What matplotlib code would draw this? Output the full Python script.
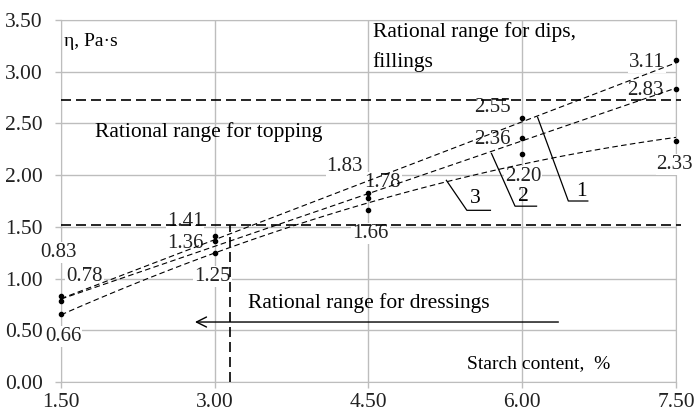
import matplotlib
matplotlib.use("Agg")
import matplotlib.pyplot as plt
import numpy as np

# starch content, % and viscosity, Pa*s for three samples
starch = [1.50, 3.00, 4.50, 6.00, 7.50]
visc_1 = [0.83, 1.41, 1.83, 2.55, 3.11]
visc_2 = [0.78, 1.36, 1.78, 2.36, 2.83]
visc_3 = [0.66, 1.25, 1.66, 2.20, 2.33]

x_ticks = [1.50, 3.00, 4.50, 6.00, 7.50]
y_ticks = [0.00, 0.50, 1.00, 1.50, 2.00, 2.50, 3.00, 3.50]

# rational range borders
upper_border = 2.73
lower_border = 1.52
dressing_border = 3.15

# where the value labels sit (data coords)
lab_pos_1 = [(1.48, 1.25), (2.71, 1.55), (4.27, 2.08), (5.71, 2.65), (7.22, 3.09)]
lab_pos_2 = [(1.73, 1.02), (2.71, 1.34), (4.64, 1.93), (5.71, 2.34), (7.20, 2.82)]
lab_pos_3 = [(1.52, 0.44), (2.98, 1.02), (4.52, 1.44), (6.01, 1.99), (7.49, 2.10)]

serif = "Liberation Serif"
plt.rcParams["font.family"] = serif
plt.rcParams["font.size"] = 14

fig = plt.figure(figsize=(6.96, 4.15), dpi=100)
ax = fig.add_axes([0.0876, 0.0795, 0.8836, 0.8723])

ax.set_xlim(1.5, 7.5)
ax.set_ylim(0, 3.5)
ax.set_xticks(x_ticks)
ax.set_yticks(y_ticks)
ax.set_xticklabels(["%.2f" % v for v in x_ticks])
ax.set_yticklabels(["%.2f" % v for v in y_ticks])
ax.grid(True, color="#bdbdbd", lw=1.0, zorder=0)
ax.set_axisbelow(True)
for s in ax.spines.values():
    s.set_color("#bdbdbd")
    s.set_zorder(0)
ax.tick_params(colors="#bdbdbd", labelcolor="#222222", length=4, width=1,
               labelsize=15.5)
ax.tick_params(axis="y", pad=9)
ax.tick_params(axis="x", pad=4)

# trend lines, like in the spreadsheet
xs = np.linspace(1.5, 7.5, 100)
for vals, deg in [(visc_1, 1), (visc_2, 1), (visc_3, 2)]:
    p = np.polyfit(starch, vals, deg)
    ax.plot(xs, np.polyval(p, xs), color="black", lw=0.8, ls=(0, (5, 3)), zorder=3)
    ax.plot(starch, vals, "o", color="black", ms=3, zorder=4, clip_on=False)

# value labels
for vals, pos in [(visc_1, lab_pos_1), (visc_2, lab_pos_2), (visc_3, lab_pos_3)]:
    for v, (px, py) in zip(vals, pos):
        ax.text(px, py, "%.2f" % v, ha="center", va="center", fontsize=15,
                color="#222222", zorder=2,
                bbox=dict(boxstyle="square,pad=0.05", fc="white", ec="none"))

# borders of rational ranges
ax.plot([1.5, 7.55], [upper_border, upper_border], color="black", lw=1.2,
        ls=(0, (6, 3)), zorder=5, clip_on=False)
ax.plot([1.5, 7.55], [lower_border, lower_border], color="black", lw=1.2,
        ls=(0, (6, 3)), zorder=5, clip_on=False)
ax.plot([dressing_border, dressing_border], [0, lower_border], color="black",
        lw=1.2, ls=(0, (6, 3)), zorder=5)

ax.annotate("", xy=(2.78, 0.58), xytext=(6.38, 0.58),
            arrowprops=dict(arrowstyle="->", color="black", lw=1.0,
                            mutation_scale=18))

# leader lines for sample numbers
leaders = [
    ("1", [6.15, 6.45, 6.64], [2.56, 1.75, 1.75], (6.58, 1.84)),
    ("2", [5.70, 5.93, 6.14], [2.21, 1.70, 1.70], (6.01, 1.79)),
    ("3", [5.26, 5.46, 5.69], [1.95, 1.66, 1.66], (5.54, 1.77)),
]
for name, lx, ly, (tx, ty) in leaders:
    ax.plot(lx, ly, color="black", lw=0.9, zorder=5)
    ax.text(tx, ty, name, ha="center", va="center", fontsize=15.5, zorder=5)

ax.text(1.53, 3.29, "η, Pa·s", ha="left", va="center", fontsize=14)
ax.text(4.54, 3.385, "Rational range for dips,", ha="left", va="center",
        fontsize=15.5)
ax.text(4.54, 3.09, "fillings", ha="left", va="center", fontsize=15.5)
ax.text(1.83, 2.42, "Rational range for topping", ha="left", va="center",
        fontsize=15.5)
ax.text(3.32, 0.76, "Rational range for dressings", ha="left", va="center",
        fontsize=15.5)
ax.text(5.46, 0.18, "Starch content,  %", ha="left", va="center", fontsize=14)

fig.savefig("out.png", dpi=100)
